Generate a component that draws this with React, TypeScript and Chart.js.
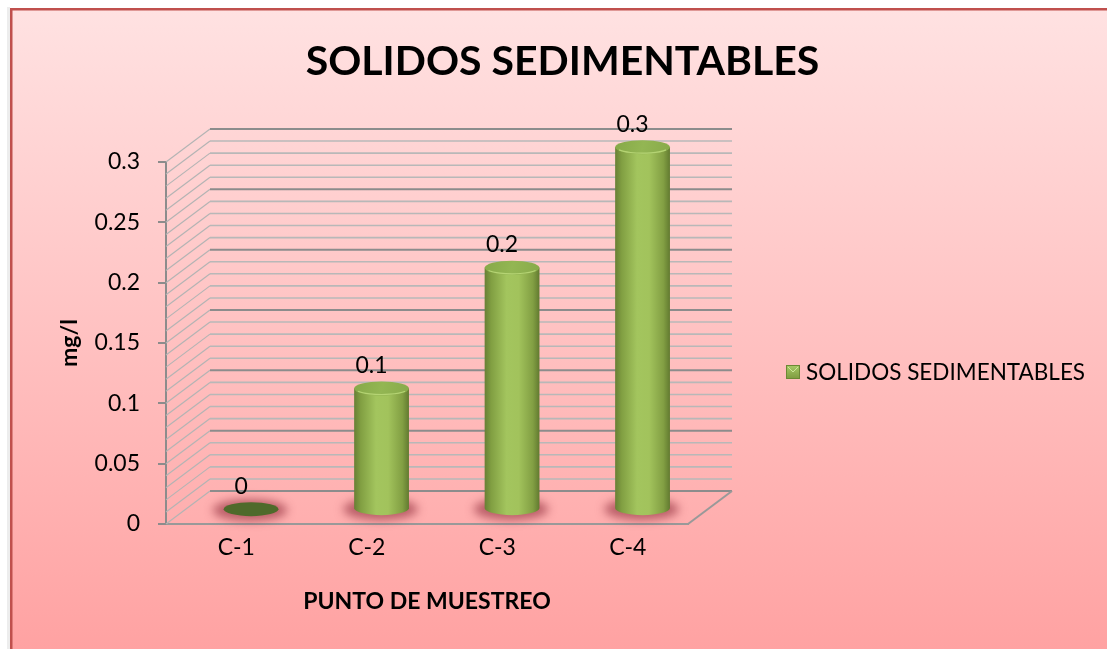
import React, { useEffect, useRef } from 'react';
import { Chart, registerables } from 'chart.js';

Chart.register(...registerables);

// ---- data ----
const categories = ['C-1', 'C-2', 'C-3', 'C-4'];
const values = [0, 0.1, 0.2, 0.3];
const seriesLabel = 'SOLIDOS SEDIMENTABLES';
const chartTitle = 'SOLIDOS SEDIMENTABLES';
const xTitle = 'PUNTO DE MUESTREO';
const yTitle = 'mg/l';
const yTickLabels = ['0', '0.05', '0.1', '0.15', '0.2', '0.25', '0.3'];
const yMin = 0;
const yMax = 0.3;
const yStep = 0.05;
const yMinorStep = 0.01;

// ---- layout / style ----
const W = 1107;
const H = 649;
const DX = 44;
const DY = -33;
const BAR_DEPTH = 0.45;
const FONT = 'Lato, "Open Sans", sans-serif';

function ellipsePath(ctx: CanvasRenderingContext2D, cx: number, cy: number, rx: number, ry: number) {
  ctx.beginPath();
  ctx.ellipse(cx, cy, rx, ry, 0, 0, Math.PI * 2);
}

const framePlugin = {
  id: 'frame',
  beforeDraw(chart: any) {
    const ctx = chart.ctx as CanvasRenderingContext2D;
    ctx.save();
    ctx.fillStyle = '#ffffff';
    ctx.fillRect(0, 0, W, H);
    ctx.fillStyle = 'rgba(0,0,0,0.07)';
    ctx.fillRect(7, 7, 3, H);
    const g = ctx.createLinearGradient(0, 8, 0, H);
    g.addColorStop(0, '#FFE2E2');
    g.addColorStop(1, '#FFA2A2');
    ctx.fillStyle = g;
    ctx.fillRect(10, 8, W - 10, H - 8);
    ctx.strokeStyle = '#C0504D';
    ctx.lineWidth = 2.5;
    ctx.beginPath();
    ctx.moveTo(11.25, H);
    ctx.lineTo(11.25, 9.25);
    ctx.lineTo(W, 9.25);
    ctx.stroke();
    ctx.restore();
  },
};

const wallsPlugin = {
  id: 'walls',
  beforeDatasetsDraw(chart: any) {
    const ctx = chart.ctx as CanvasRenderingContext2D;
    const ys = chart.scales.y;
    const { left, right, bottom } = chart.chartArea;
    const majors = ys.ticks.map((t: any) => t.value);
    const n = Math.round((ys.max - ys.min) / yMinorStep);
    ctx.save();
    for (let i = 0; i <= n; i++) {
      const v = ys.min + i * yMinorStep;
      const py = ys.getPixelForValue(v);
      const major = majors.some((m: number) => Math.abs(m - v) < 1e-6);
      // side wall
      ctx.strokeStyle = '#B4B4B4';
      ctx.lineWidth = 1.2;
      ctx.beginPath();
      ctx.moveTo(left, py);
      ctx.lineTo(left + DX, py + DY);
      ctx.stroke();
      // back wall
      ctx.strokeStyle = major ? '#8C8C8C' : '#B8B8B8';
      ctx.lineWidth = major ? 2 : 1.6;
      ctx.beginPath();
      ctx.moveTo(left + DX, py + DY);
      ctx.lineTo(right + DX, py + DY);
      ctx.stroke();
    }
    // floor right edge
    ctx.strokeStyle = '#999999';
    ctx.lineWidth = 2;
    ctx.beginPath();
    ctx.moveTo(right, bottom);
    ctx.lineTo(right + DX, bottom + DY);
    ctx.stroke();
    ctx.restore();
  },
};

const cylindersPlugin = {
  id: 'cylinders',
  afterDatasetsDraw(chart: any) {
    const ctx = chart.ctx as CanvasRenderingContext2D;
    const meta = chart.getDatasetMeta(0);
    const data = chart.data.datasets[0].data as number[];
    meta.data.forEach((bar: any, i: number) => {
      const p = bar.getProps(['x', 'y', 'base', 'width'], true);
      const cx = p.x + DX * BAR_DEPTH;
      const top = p.y + DY * BAR_DEPTH;
      const bot = p.base + DY * BAR_DEPTH;
      const rx = p.width / 2;
      const ry = 7;
      // shadow
      ctx.save();
      ctx.filter = 'blur(5px)';
      ctx.fillStyle = 'rgba(140,40,55,0.6)';
      ellipsePath(ctx, cx - 1, bot + 1, rx + 10, ry + 4);
      ctx.fill();
      ctx.restore();

      ctx.save();
      if (bot - top > 0.5) {
        const g = ctx.createLinearGradient(cx - rx, 0, cx + rx, 0);
        g.addColorStop(0, '#687F35');
        g.addColorStop(0.12, '#819F42');
        g.addColorStop(0.4, '#A3C55E');
        g.addColorStop(0.62, '#A2C35C');
        g.addColorStop(0.88, '#829F43');
        g.addColorStop(1, '#627A30');
        ctx.fillStyle = g;
        ctx.beginPath();
        ctx.moveTo(cx - rx, top);
        ctx.lineTo(cx - rx, bot);
        ctx.ellipse(cx, bot, rx, ry, 0, Math.PI, 0, true);
        ctx.lineTo(cx + rx, top);
        ctx.closePath();
        ctx.fill();
        // top cap
        const tg = ctx.createLinearGradient(cx - rx, top - ry, cx + rx, top + ry);
        tg.addColorStop(0, '#86A948');
        tg.addColorStop(0.5, '#93B653');
        tg.addColorStop(1, '#88AA4A');
        ctx.fillStyle = tg;
        ellipsePath(ctx, cx, top, rx, ry);
        ctx.fill();
        ctx.strokeStyle = 'rgba(185,215,120,0.9)';
        ctx.lineWidth = 1.2;
        ctx.beginPath();
        ctx.ellipse(cx, top, rx - 1, ry - 1, 0, 0.15 * Math.PI, 0.85 * Math.PI, false);
        ctx.stroke();
      } else {
        ctx.fillStyle = '#4F6A2B';
        ellipsePath(ctx, cx, bot, rx, ry);
        ctx.fill();
      }
      ctx.restore();

      // value label
      ctx.save();
      ctx.fillStyle = '#000000';
      ctx.font = `23px ${FONT}`;
      ctx.textAlign = 'center';
      ctx.textBaseline = 'middle';
      ctx.fillText(String(data[i]), cx - 10, top - 23);
      ctx.restore();
    });
  },
};

const legendPlugin = {
  id: 'customLegend',
  afterDraw(chart: any) {
    const ctx = chart.ctx as CanvasRenderingContext2D;
    const label = chart.data.datasets[0].label as string;
    const bx = 786;
    const by = 365;
    const s = 14;
    ctx.save();
    const g = ctx.createLinearGradient(0, by, 0, by + s);
    g.addColorStop(0, '#A9CA68');
    g.addColorStop(1, '#7D9A3E');
    ctx.fillStyle = g;
    ctx.fillRect(bx, by, s, s);
    ctx.strokeStyle = '#6C8835';
    ctx.lineWidth = 1;
    ctx.strokeRect(bx + 0.5, by + 0.5, s - 1, s - 1);
    ctx.strokeStyle = 'rgba(210,235,160,0.9)';
    ctx.beginPath();
    ctx.moveTo(bx + 2, by + 2);
    ctx.lineTo(bx + s / 2, by + s / 2);
    ctx.lineTo(bx + s - 2, by + 2);
    ctx.stroke();
    ctx.fillStyle = '#000000';
    ctx.font = `22.5px ${FONT}`;
    ctx.textAlign = 'left';
    ctx.textBaseline = 'middle';
    ctx.fillText(label, 806, by + s / 2 + 1);
    ctx.restore();
  },
};

export default function App() {
  const ref = useRef<HTMLCanvasElement | null>(null);
  useEffect(() => {
    if (!ref.current) return;
    const chart = new Chart(ref.current, {
      type: 'bar',
      data: {
        labels: categories,
        datasets: [
          {
            label: seriesLabel,
            data: values,
            backgroundColor: 'rgba(0,0,0,0)',
            borderWidth: 0,
            categoryPercentage: 1,
            barPercentage: 0.42,
          },
        ],
      },
      options: {
        responsive: false,
        animation: false,
        events: [],
        layout: { padding: { left: 18, top: 0, right: 0, bottom: 0 } },
        plugins: {
          legend: { display: false },
          tooltip: { enabled: false },
          title: {
            display: true,
            text: chartTitle,
            color: '#000000',
            font: { family: FONT, size: 41, weight: 'bold', lineHeight: 1.2 },
            padding: { top: 37.4, bottom: 75.4 },
          },
        },
        scales: {
          x: {
            grid: { display: false, drawTicks: false },
            border: { display: true, color: '#999999', width: 2 },
            ticks: { color: '#000000', font: { family: FONT, size: 23 }, padding: 10, labelOffset: 5 },
            title: {
              display: true,
              text: xTitle,
              color: '#000000',
              font: { family: FONT, size: 23, weight: 'bold', lineHeight: 1.2 },
              padding: { top: 0, bottom: 34 },
            },
            afterFit: (s: any) => {
              s.height = 125;
            },
          },
          y: {
            min: yMin,
            max: yMax,
            grid: { display: true, drawOnChartArea: false, drawTicks: true, tickLength: 8, color: '#8C8C8C', lineWidth: 2 },
            border: { display: true, color: '#8C8C8C', width: 2 },
            ticks: {
              stepSize: yStep,
              color: '#000000',
              font: { family: FONT, size: 23 },
              padding: 18,
              callback: (_v: any, idx: number) => yTickLabels[idx],
            },
            title: {
              display: true,
              text: yTitle,
              color: '#000000',
              font: { family: FONT, size: 23, weight: 'bold', lineHeight: 1.2 },
              padding: { top: 38, bottom: 0 },
            },
            afterFit: (s: any) => {
              s.width = 148;
            },
          },
          yRight: {
            type: 'linear',
            position: 'right',
            display: true,
            grid: { display: false, drawTicks: false },
            border: { display: false },
            ticks: { display: false },
            afterFit: (s: any) => {
              s.width = 419;
            },
          },
        },
      } as any,
      plugins: [framePlugin, wallsPlugin, cylindersPlugin, legendPlugin],
    });
    return () => chart.destroy();
  }, []);

  return (
    <div style={{ position: 'fixed', left: 0, top: 0, width: W, height: H }}>
      <canvas ref={ref} width={W} height={H} style={{ width: W, height: H, display: 'block' }} />
    </div>
  );
}
